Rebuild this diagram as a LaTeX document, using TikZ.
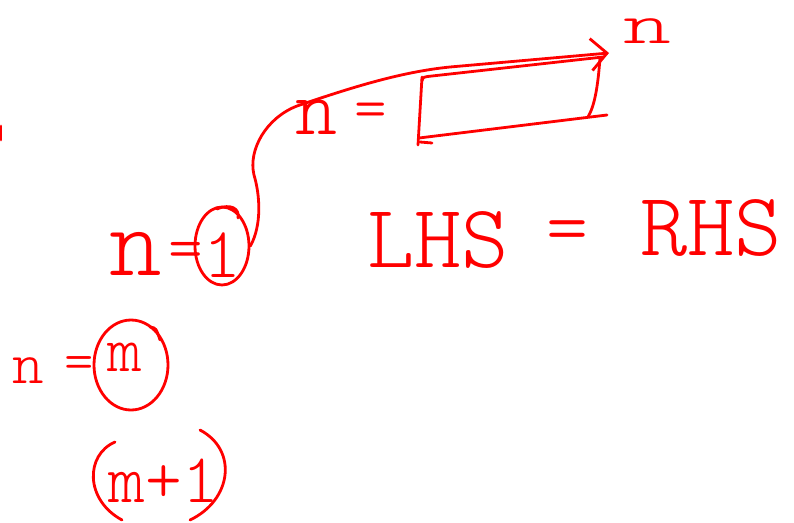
\documentclass[tikz,border=0pt]{standalone}
\usepackage{fontspec}
\newfontfamily\hand{Latin Modern Mono Light}
\usetikzlibrary{arrows.meta,shapes.geometric}
\definecolor{ink}{RGB}{255,0,0}
\tikzset{
  pen/.style={draw=ink,line width=2.8pt,line cap=round,line join=round},
  hw/.style={text=ink,inner sep=0pt},
  ring/.style={pen,ellipse,inner sep=0pt},
}
\newcommand{\hs}[1]{\hand\fontsize{#1}{#1}\selectfont}
\begin{document}
\begin{tikzpicture}[x=1pt,y=-1pt]
\useasboundingbox (0,0) rectangle (794,522);
% left edge mark
\draw[pen] (1,126) -- (1,140);
% n = 1
\node[hw,font=\hs{100}] (na) at (136,254) {n};
\node[hw,font=\hs{66}] (eqa) at (186,256) {=};
\node[ring,minimum width=54pt,minimum height=78pt] (c1) at (222,246) {};
\node[hw,font=\hs{72}] (one) at (222,255) {1};
\draw[pen] (217,209) .. controls (231,203) and (240,209) .. (238,218);
% top: n = [box] -> n
\node[hw,font=\hs{80}] (nb) at (316,117) {n};
\node[hw,font=\hs{62}] (eqb) at (371,116) {=};
\node[hw,font=\hs{48},xscale=1.9,yscale=1.2] (nc) at (647,31) {n};
\coordinate (tip) at (609,53);
\draw[pen,-{Straight Barb[length=16pt,width=32pt]}] (c1.east) .. controls (262,225) and (260,195) .. (254,175)
  .. controls (248,150) and (266,118) .. (297,106)
  .. controls (350,88) and (400,72) .. (450,67) -- (tip);
% box
\draw[pen] (422,81) .. controls (423,77) .. (432,76) -- (603,57);
\draw[pen] (600,58) .. controls (598,85) and (595,105) .. (588,117);
\draw[pen] (422,77) -- (418,145);
\draw[pen] (419,138) -- (607,115);
\draw[pen] (420,142) -- (432,143);
% LHS = RHS
\node[hw,font=\hs{90}] (lhs) at (438,240) {LHS};
\node[hw,font=\hs{80}] (eqc) at (567,237) {=};
\node[hw,font=\hs{90}] (rhs) at (711,228) {RHS};
% n = m
\node[hw,font=\hs{60}] (nd) at (28,371) {n};
\node[hw,font=\hs{56}] (eqd) at (79,368) {=};
\node[ring,minimum width=74pt,minimum height=90pt] (cm) at (131,365) {};
\node[hw,font=\hs{66}] (m) at (125,357) {m};
\draw[pen] (150,327) .. controls (156,328) .. (160,340);
% (m+1)
\node[hw,font=\hs{70}] (mp) at (164,481) {m+1};
\draw[pen] (115,442) .. controls (85,455) and (85,500) .. (122,520);
\draw[pen] (200,430) .. controls (238,450) and (232,500) .. (190,520);
\end{tikzpicture}
\end{document}
